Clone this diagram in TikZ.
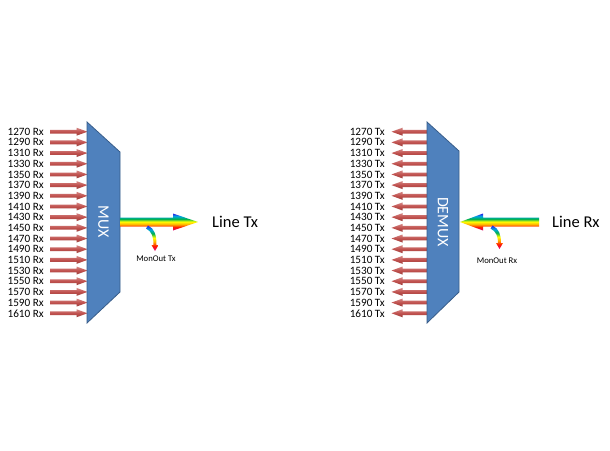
\documentclass[tikz,border=0pt]{standalone}
\usepackage{fontspec}
\setmainfont{Carlito}
\usetikzlibrary{arrows.meta,calc}
\definecolor{muxblue}{HTML}{4F81BD}
\definecolor{muxedge}{HTML}{385D8A}
\definecolor{arrred}{HTML}{C0504D}
\definecolor{rbblue}{HTML}{2A1FE8}
\definecolor{rbcyan}{HTML}{00A8E0}
\definecolor{rbgreen}{HTML}{00B050}
\definecolor{rbyellow}{HTML}{FFFF00}
\definecolor{rborange}{HTML}{FFB000}
\definecolor{rbred}{HTML}{FF1A00}
\definecolor{rbmag}{HTML}{E0007A}
\pgfdeclareverticalshading{rainbow}{100bp}{color(0bp)=(rbmag); color(25bp)=(rbmag); color(35bp)=(rbred); color(43bp)=(rborange); color(51bp)=(rbyellow); color(59bp)=(rbgreen); color(67bp)=(rbcyan); color(75bp)=(rbblue); color(100bp)=(rbblue)}
\begin{document}
\begin{tikzpicture}[x=1pt,y=-1pt,
  lbl/.style={font=\fontsize{11.2}{12}\selectfont, inner sep=0pt, anchor=east},
  redarr/.style={top color=arrred!70!white, bottom color=arrred!80!black, middle color=arrred},
  muxshape/.style={fill=muxblue, draw=muxedge, line width=0.8pt},
  muxtxt/.style={text=white, font=\fontsize{16}{18}\selectfont, rotate=-90, inner sep=0pt},
  linetxt/.style={font=\fontsize{16.5}{18}\selectfont, anchor=west, inner sep=0pt},
  montxt/.style={font=\fontsize{8.7}{10}\selectfont, inner sep=0pt},
  rainbowfill/.style={shading=rainbow}]
\useasboundingbox (0,0) rectangle (610,450);
\fill[white] (0,0) rectangle (610,450);

% labels and red arrows
\foreach \i in {0,...,17}{
  \pgfmathtruncatemacro{\w}{1270+20*\i}
  \pgfmathsetmacro{\yy}{131.7+10.68*\i}
  \node[lbl] (rx\i) at (44,\yy) {\w\ Rx};
  \coordinate (ra\i) at (50,\yy);
  \coordinate (rb\i) at (87.5,\yy);
  \shade[redarr] ($(ra\i)+(0,-1.9)$) -- ($(rb\i)+(-11,-1.9)$) -- ($(rb\i)+(-11,-4)$) -- (rb\i)
    -- ($(rb\i)+(-11,4)$) -- ($(rb\i)+(-11,1.9)$) -- ($(ra\i)+(0,1.9)$) -- cycle;
  \node[lbl] (tx\i) at (385,\yy) {\w\ Tx};
  \coordinate (ta\i) at (427,\yy);
  \coordinate (tb\i) at (391.5,\yy);
  \shade[redarr] ($(ta\i)+(0,-1.9)$) -- ($(tb\i)+(11,-1.9)$) -- ($(tb\i)+(11,-4)$) -- (tb\i)
    -- ($(tb\i)+(11,4)$) -- ($(tb\i)+(11,1.9)$) -- ($(ta\i)+(0,1.9)$) -- cycle;
}

% MUX and DEMUX bodies
\draw[muxshape] (87,122) -- (120,152) -- (120,292) -- (87,323) -- cycle;
\node[muxtxt] (mux) at (103.5,222) {MUX};
\draw[muxshape] (427,122) -- (459,151) -- (459,292) -- (427,323) -- cycle;
\node[muxtxt] (demux) at (443,222) {DEMUX};

% line labels
\node[linetxt] (linetx) at (212,222) {Line Tx};
\node[linetxt] (linerx) at (552,222) {Line Rx};
\node[montxt] (montx) at (156,258.5) {MonOut Tx};
\node[montxt] (monrx) at (497,260.5) {MonOut Rx};

% rainbow line arrows
\coordinate (muxR) at (120,222);
\coordinate (txtip) at (198,222);
\shade[rainbowfill] ($(muxR)+(0,-4.5)$) -- ($(txtip)+(-25,-4.5)$) -- ($(txtip)+(-25,-8.5)$) -- (txtip)
  -- ($(txtip)+(-25,8.5)$) -- ($(txtip)+(-25,4.5)$) -- ($(muxR)+(0,4.5)$) -- cycle;
\coordinate (rxS) at (539,222);
\coordinate (rxtip) at (460,222);
\shade[rainbowfill] ($(rxS)+(0,-4.5)$) -- ($(rxtip)+(23,-4.5)$) -- ($(rxtip)+(23,-8.5)$) -- (rxtip)
  -- ($(rxtip)+(23,8.5)$) -- ($(rxtip)+(23,4.5)$) -- ($(rxS)+(0,4.5)$) -- cycle;

% monitor taps
\coordinate (mtS) at (147,227);
\shade[rainbowfill] ($(mtS)+(1,-1.5)$) .. controls ($(mtS)+(7.5,1.5)$) and ($(mtS)+(9.5,8)$) .. ($(mtS)+(9.5,18)$)
  -- ($(mtS)+(11.5,18)$) -- ($(mtS)+(8,24)$) -- ($(mtS)+(4.5,18)$) -- ($(mtS)+(6.5,18)$)
  .. controls ($(mtS)+(6.5,10)$) and ($(mtS)+(5,4.5)$) .. ($(mtS)+(-1,1.5)$) -- cycle;
\coordinate (mrS) at (491.5,227);
\shade[rainbowfill] ($(mrS)+(1,-1.5)$) .. controls ($(mrS)+(7.5,1.5)$) and ($(mrS)+(9.5,8)$) .. ($(mrS)+(9.5,16)$)
  -- ($(mrS)+(11.5,16)$) -- ($(mrS)+(8,22)$) -- ($(mrS)+(4.5,16)$) -- ($(mrS)+(6.5,16)$)
  .. controls ($(mrS)+(6.5,10)$) and ($(mrS)+(5,4.5)$) .. ($(mrS)+(-1,1.5)$) -- cycle;
\end{tikzpicture}
\end{document}
